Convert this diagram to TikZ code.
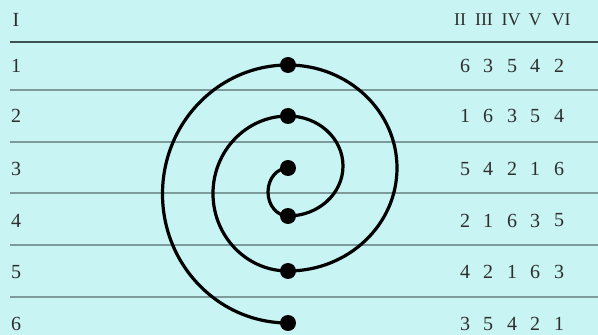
\documentclass[tikz,border=0pt]{standalone}
\usepackage{fontspec}
\setmainfont{Liberation Serif}
\begin{document}
\begin{tikzpicture}[x=1pt,y=1pt,
  rowline/.style={draw=rulegrey,line width=2pt},
  toprule/.style={draw=ruledark,line width=2.4pt},
  lbl/.style={text=textgrey,font=\fontsize{20}{24}\selectfont,inner sep=0pt,anchor=center},
  hdr/.style={text=textgrey,font=\fontsize{18}{22}\selectfont,inner sep=0pt,anchor=center},
  dot/.style={circle,fill=black,minimum size=16pt,inner sep=0pt},
  spiral/.style={draw=black,line width=3.2pt}]
\definecolor{bgcyan}{HTML}{C8F4F3}
\definecolor{rulegrey}{HTML}{7E9B9B}
\definecolor{ruledark}{HTML}{3E5252}
\definecolor{textgrey}{HTML}{2E2E2E}
\fill[bgcyan] (0,0) rectangle (598,335);
\useasboundingbox (0,0) rectangle (598,335);
% rules
\coordinate (tl) at (10,293); \coordinate (tr) at (598,293);
\draw[toprule] (tl) -- (tr);
\foreach \y [count=\i] in {245,193,141.5,89.5,38}{
  \coordinate (l\i) at (10,\y); \coordinate (r\i) at (598,\y);
  \draw[rowline] (l\i) -- (r\i);
}
% headers
\node[lbl] (hI) at (16,315) {I};
\node[hdr] (hII) at (460,315) {II};
\node[hdr] (hIII) at (484,315) {III};
\node[hdr] (hIV) at (511,315) {IV};
\node[hdr] (hV) at (535,315) {V};
\node[hdr] (hVI) at (561,315) {VI};
% row numbers
\foreach \y [count=\i] in {269,219,166,114.5,63,11}{
  \node[lbl] (n\i) at (16,\y) {\i};
}
% permutations
\foreach \a/\b/\c/\d/\e [count=\i] in {6/3/5/4/2,1/6/3/5/4,5/4/2/1/6,2/1/6/3/5,4/2/1/6/3,3/5/4/2/1}{
  \pgfmathsetmacro\yy{{269,219,166,114.5,63,11}[\i-1]}
  \node[lbl] (p\i a) at (465,\yy) {\a};
  \node[lbl] (p\i b) at (488,\yy) {\b};
  \node[lbl] (p\i c) at (512,\yy) {\c};
  \node[lbl] (p\i d) at (535,\yy) {\d};
  \node[lbl] (p\i e) at (559,\yy) {\e};
}
% dots
\coordinate (d1) at (288,270);
\coordinate (d2) at (288,219);
\coordinate (d3) at (288,167);
\coordinate (d4) at (288,119);
\coordinate (d5) at (288,64);
\coordinate (d6) at (288,12);
\draw[spiral] (d3)
  arc[start angle=90,end angle=270,x radius=20,y radius=24]
  arc[start angle=270,end angle=450,x radius=55,y radius=50]
  arc[start angle=90,end angle=270,x radius=75,y radius=77.5]
  arc[start angle=270,end angle=450,x radius=109,y radius=103]
  arc[start angle=90,end angle=270,x radius=125.5,y radius=129];
\foreach \i in {1,...,6}{\node[dot] (dot\i) at (d\i) {};}
\end{tikzpicture}
\end{document}
